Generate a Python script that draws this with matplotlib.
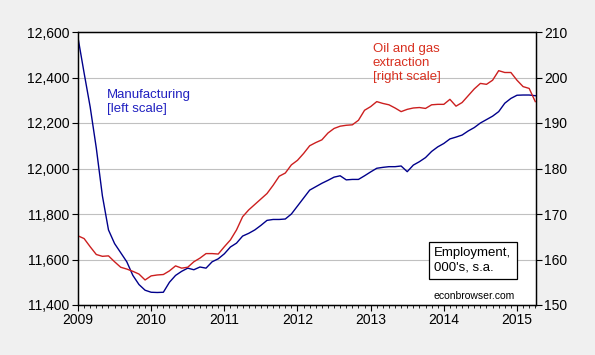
import numpy as np
import matplotlib
matplotlib.use("Agg")
import matplotlib.pyplot as plt
from matplotlib.ticker import MultipleLocator, FuncFormatter

plt.rcParams["font.family"] = ["Liberation Sans", "DejaVu Sans"]

# monthly, Jan 2009 - Apr 2015
start_year = 2009
manufacturing = [
    12575, 12420, 12270, 12090, 11880, 11730, 11670, 11630, 11590, 11530,
    11490, 11465, 11456, 11455, 11456, 11500, 11530, 11548, 11562, 11555,
    11567, 11562, 11590, 11603, 11625, 11655, 11672, 11703, 11715, 11730,
    11750, 11772, 11776, 11776, 11778, 11800, 11835, 11870, 11905, 11920,
    11935, 11948, 11962, 11968, 11950, 11952, 11952, 11968, 11985, 12001,
    12005, 12008, 12008, 12011, 11986, 12015, 12030, 12048, 12075, 12095,
    12110, 12130, 12138, 12147, 12165, 12180, 12200, 12215, 12230, 12250,
    12287, 12308, 12322, 12323, 12323, 12320,
]
oil_gas = [
    165.2, 164.6, 162.8, 161.1, 160.7, 160.8, 159.5, 158.3, 157.9, 157.4,
    156.8, 155.5, 156.4, 156.6, 156.7, 157.5, 158.6, 158.1, 158.3, 159.5,
    160.3, 161.3, 161.3, 161.2, 162.8, 164.3, 166.5, 169.4, 170.9, 172.1,
    173.3, 174.5, 176.3, 178.3, 179.0, 180.8, 181.8, 183.3, 185.0, 185.7,
    186.3, 187.8, 188.8, 189.3, 189.5, 189.6, 190.6, 192.8, 193.6, 194.7,
    194.3, 194.0, 193.3, 192.5, 193.0, 193.3, 193.4, 193.2, 194.0, 194.1,
    194.1, 195.2, 193.7, 194.5, 196.0, 197.5, 198.7, 198.5, 199.4, 201.5,
    201.1, 201.1, 199.4, 198.0, 197.6, 194.7,
]

dates = start_year + np.arange(len(manufacturing)) / 12.0

fig = plt.figure(figsize=(5.95, 3.55), dpi=100, facecolor="#f0f0f0")
ax = fig.add_axes([78 / 595, 1 - 305 / 355, 458 / 595, 273 / 355])
ax.set_facecolor("white")
ax2 = ax.twinx()

ax.plot(dates, manufacturing, color="#00008b", lw=1.0)
ax2.plot(dates, oil_gas, color="#cc1f1f", lw=1.0)
ax2.set_zorder(ax.get_zorder() + 1)
ax2.patch.set_visible(False)

ax.set_xlim(2009, dates[-1] + 0.01)
ax.set_ylim(11400, 12600)
ax2.set_ylim(150, 210)
ax.yaxis.set_major_locator(MultipleLocator(200))
ax2.yaxis.set_major_locator(MultipleLocator(10))
ax.yaxis.set_major_formatter(FuncFormatter(lambda v, p: f"{int(v):,}"))
ax.xaxis.set_major_locator(MultipleLocator(1))
ax.xaxis.set_minor_locator(MultipleLocator(1 / 12))
ax.xaxis.set_major_formatter(FuncFormatter(lambda v, p: f"{int(round(v))}"))

ax.grid(axis="y", color="#c0c0c0", lw=0.8)
ax.set_axisbelow(True)

for a in (ax, ax2):
    for s in a.spines.values():
        s.set_color("black")
        s.set_linewidth(0.9)
ax.tick_params(axis="both", which="major", direction="out", length=4, width=0.8,
               labelsize=10, colors="black", pad=2)
ax.tick_params(axis="x", which="minor", direction="out", length=2.5, width=0.6)
ax2.tick_params(axis="y", direction="out", length=4, width=0.8, labelsize=10, pad=2)

ax.text(2009.39, 12350, "Manufacturing\n[left scale]", color="#2020c0",
        fontsize=9.5, va="top", ha="left", linespacing=1.25)
ax2.text(2013.03, 207.6, "Oil and gas\nextraction\n[right scale]", color="#d83020",
         fontsize=9.5, va="top", ha="left", linespacing=1.25)
ax.text(2013.87, 11655, "Employment,\n000's, s.a.", fontsize=9.5, va="top",
        ha="left", linespacing=1.3,
        bbox=dict(boxstyle="square,pad=0.4", fc="white", ec="black", lw=0.9))
ax.text(2014.41, 11418, "econbrowser.com", fontsize=7.5, ha="center", va="bottom")

fig.savefig("out.png", dpi=100, facecolor=fig.get_facecolor())
